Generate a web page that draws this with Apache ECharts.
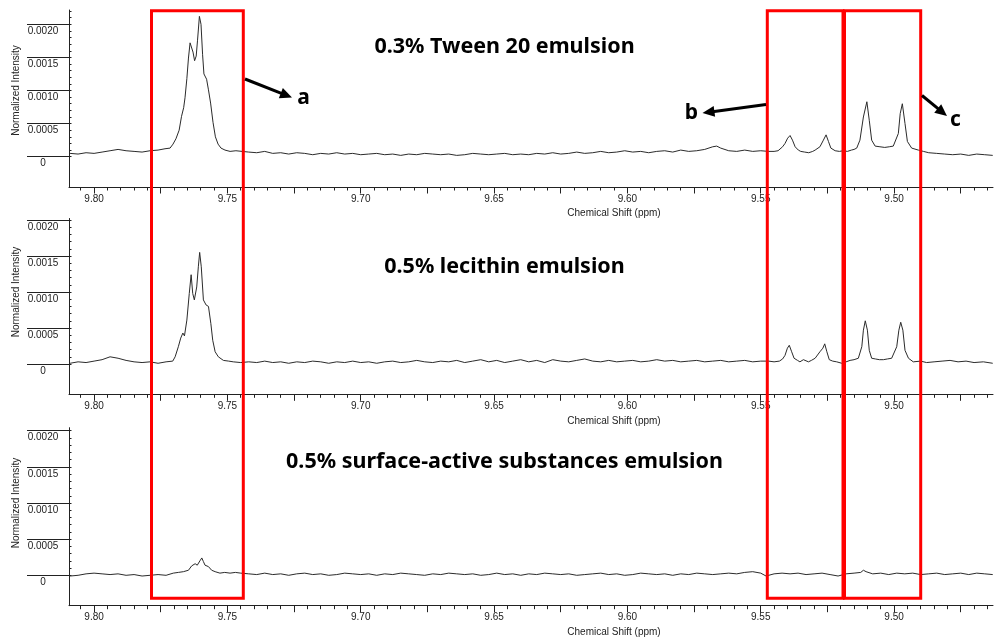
<!DOCTYPE html>
<html>
<head>
<meta charset="utf-8">
<title>1H NMR aldehyde region</title>
<script src="https://cdn.jsdelivr.net/npm/echarts@6/dist/echarts.min.js"></script>
<style>
    html, body { margin: 0; padding: 0; background: #fff; }
    #chart { width: 994px; height: 638px; }
</style>
</head>
<body>
<div id="chart"></div>
<script>
// 谱图数据 - [化学位移 ppm, 强度 ×1e-5]

const panelTitles = [
    '0.3% Tween 20 emulsion',
    '0.5% lecithin emulsion',
    '0.5% surface-active substances emulsion'
];

const shiftLabels = [9.80, 9.75, 9.70, 9.65, 9.60, 9.55, 9.50];
const shiftMajorTicks = [9.475, 9.50, 9.525, 9.55, 9.575, 9.60, 9.625, 9.65, 9.675, 9.70, 9.725, 9.75, 9.775, 9.80];
const intensityLabels = [0, 50, 100, 150, 200];

const tweenSpectrum = [
    [9.809, 5], [9.806, 4], [9.803, 6], [9.800, 5], [9.797, 7], [9.794, 9], [9.791, 11], [9.788, 9],
    [9.785, 8], [9.782, 7], [9.779, 9], [9.776, 10],
    [9.7734, 12], [9.7715, 13], [9.7704, 19], [9.7693, 27], [9.7681, 40], [9.7672, 61], [9.7664, 74],
    [9.7659, 89], [9.7652, 118], [9.7646, 149], [9.764, 172], [9.7634, 175], [9.7629, 158], [9.7623, 145],
    [9.7617, 152], [9.7612, 176], [9.7605, 212], [9.7599, 200], [9.7593, 154], [9.7588, 125], [9.7578, 117],
    [9.7571, 101], [9.7563, 81], [9.7554, 52], [9.7545, 30], [9.7535, 19], [9.7524, 13], [9.7509, 10],
    [9.749, 8], [9.7468, 9], [9.7445, 8],
    [9.742, 7], [9.739, 6], [9.736, 8], [9.733, 5], [9.730, 6], [9.727, 4], [9.724, 6], [9.721, 5],
    [9.718, 3], [9.715, 5], [9.712, 4], [9.709, 6], [9.706, 4], [9.703, 5], [9.700, 3], [9.697, 4],
    [9.694, 5], [9.691, 3], [9.688, 4], [9.685, 2], [9.682, 4], [9.679, 3], [9.676, 5], [9.673, 4],
    [9.670, 3], [9.667, 4], [9.664, 2], [9.661, 3], [9.658, 5], [9.655, 4], [9.652, 3], [9.649, 4],
    [9.646, 5], [9.643, 3], [9.640, 4], [9.637, 3], [9.634, 5], [9.631, 4], [9.628, 6], [9.625, 4],
    [9.622, 5], [9.619, 7], [9.616, 5], [9.613, 6], [9.610, 8], [9.607, 6], [9.604, 7], [9.601, 9],
    [9.598, 7], [9.595, 8], [9.592, 6], [9.589, 8], [9.586, 9], [9.583, 7], [9.580, 10], [9.577, 8],
    [9.574, 9], [9.571, 11], [9.568, 15], [9.5665, 16], [9.565, 13], [9.562, 9], [9.559, 8], [9.556, 10],
    [9.553, 8], [9.550, 9],
    [9.547, 8], [9.545, 8], [9.5435, 9], [9.5428, 11], [9.5418, 15], [9.5409, 20], [9.5399, 28], [9.539, 32],
    [9.5381, 25], [9.5371, 15], [9.5359, 10], [9.535, 8], [9.5335, 7], [9.532, 6], [9.5305, 8], [9.5296, 10],
    [9.5278, 15], [9.5265, 25], [9.5255, 33], [9.5246, 23], [9.5237, 13], [9.5221, 9], [9.5205, 8], [9.519, 9],
    [9.5175, 8], [9.516, 10], [9.515, 11],
    [9.514, 13], [9.5128, 25], [9.5115, 60], [9.5102, 83], [9.5093, 55], [9.5084, 25], [9.5071, 16], [9.5053, 15],
    [9.5035, 14], [9.5018, 15], [9.5003, 16], [9.4984, 35], [9.4977, 65], [9.4969, 80], [9.4959, 50], [9.495, 23],
    [9.4934, 13], [9.4909, 10], [9.489, 8], [9.487, 6], [9.484, 5], [9.481, 4], [9.478, 3], [9.475, 4],
    [9.472, 2], [9.469, 4], [9.466, 3], [9.463, 2]
];

const lecithinSpectrum = [
    [9.809, 1], [9.806, 3], [9.803, 2], [9.800, 4], [9.797, 6], [9.794, 10], [9.791, 8], [9.788, 5],
    [9.785, 3], [9.782, 2], [9.779, 3], [9.776, 1], [9.773, 3], [9.7705, 4],
    [9.7696, 10], [9.7684, 24], [9.7675, 36], [9.7667, 43], [9.7661, 39], [9.7652, 61], [9.7643, 98], [9.7636, 124],
    [9.763, 98], [9.7624, 89], [9.7615, 107], [9.7609, 135], [9.7604, 155], [9.7598, 135], [9.759, 89], [9.758, 82],
    [9.7571, 80], [9.7562, 56], [9.7555, 33], [9.7546, 17], [9.7534, 10], [9.7515, 5], [9.7495, 4], [9.7478, 3],
    [9.745, 2],
    [9.742, 3], [9.739, 2], [9.736, 4], [9.733, 2], [9.730, 3], [9.727, 1], [9.724, 3], [9.721, 2],
    [9.718, 4], [9.715, 3], [9.712, 1], [9.709, 3], [9.706, 2], [9.703, 4], [9.700, 2], [9.697, 3],
    [9.694, 1], [9.691, 3], [9.688, 4], [9.685, 2], [9.682, 3], [9.679, 5], [9.676, 3], [9.673, 2],
    [9.670, 4], [9.667, 3], [9.664, 5], [9.661, 2], [9.658, 4], [9.655, 6], [9.652, 3], [9.649, 5],
    [9.646, 2], [9.643, 4], [9.640, 6], [9.637, 3], [9.634, 5], [9.631, 2], [9.628, 6], [9.625, 4],
    [9.622, 3], [9.619, 5], [9.616, 7], [9.613, 4], [9.610, 3], [9.607, 5], [9.604, 3], [9.601, 4],
    [9.598, 5], [9.595, 3], [9.592, 4], [9.589, 6], [9.586, 4], [9.583, 5], [9.580, 3], [9.577, 4],
    [9.574, 5], [9.571, 3], [9.568, 4], [9.565, 5], [9.562, 3], [9.559, 4], [9.556, 5], [9.553, 3],
    [9.550, 4],
    [9.547, 4], [9.545, 3], [9.543, 4], [9.5418, 7], [9.5409, 12], [9.54, 22], [9.5393, 26], [9.5384, 17],
    [9.5375, 8], [9.5362, 5], [9.5353, 3], [9.534, 6], [9.5321, 3], [9.531, 5], [9.5296, 8], [9.5278, 17],
    [9.5267, 22], [9.526, 28], [9.5252, 17], [9.5243, 6], [9.523, 4], [9.5215, 3], [9.5196, 1], [9.518, 3],
    [9.5165, 5], [9.515, 6], [9.5134, 8], [9.5121, 24], [9.5115, 47], [9.5108, 60], [9.51, 47], [9.5093, 19],
    [9.5084, 8], [9.507, 7], [9.5055, 6], [9.504, 6], [9.5025, 7], [9.5009, 8], [9.499, 24], [9.4982, 47],
    [9.4975, 58], [9.4967, 47], [9.4959, 19], [9.4946, 8], [9.4928, 3], [9.490, 4], [9.4878, 2], [9.485, 3],
    [9.482, 4], [9.479, 5], [9.476, 3], [9.473, 4], [9.470, 2], [9.4665, 3], [9.463, 1]
];

const surfactantSpectrum = [
    [9.809, -1], [9.806, 0], [9.803, 2], [9.800, 3], [9.797, 2], [9.794, 1], [9.791, 2], [9.788, 0],
    [9.785, 1], [9.782, -1], [9.779, 0], [9.776, 1], [9.773, 0],
    [9.7703, 3], [9.7684, 4], [9.7665, 5], [9.7646, 7], [9.7634, 13], [9.7621, 16], [9.7613, 14], [9.7603, 20],
    [9.7596, 24], [9.759, 19], [9.7584, 14], [9.7577, 16], [9.7571, 12], [9.7559, 7], [9.7546, 5], [9.7528, 3],
    [9.751, 4], [9.749, 3], [9.747, 4], [9.745, 3],
    [9.742, 2], [9.739, 1], [9.736, 3], [9.733, 1], [9.730, 2], [9.727, 0], [9.724, 2], [9.721, 3],
    [9.718, 1], [9.715, 2], [9.712, 0], [9.709, 1], [9.706, 3], [9.703, 2], [9.700, 1], [9.697, 2],
    [9.694, 0], [9.691, 2], [9.688, 1], [9.685, 3], [9.682, 2], [9.679, 1], [9.676, 0], [9.673, 2],
    [9.670, 1], [9.667, 3], [9.664, 2], [9.661, 1], [9.658, 2], [9.655, 0], [9.652, 1], [9.649, 3],
    [9.646, 1], [9.643, 2], [9.640, 0], [9.637, 2], [9.634, 1], [9.631, 3], [9.628, 2], [9.625, 1],
    [9.622, 2], [9.619, 0], [9.616, 1], [9.613, 2], [9.610, 3], [9.607, 1], [9.604, 2], [9.601, 0],
    [9.598, 1], [9.595, 3], [9.592, 2], [9.589, 1], [9.586, 2], [9.583, 0], [9.580, 2], [9.577, 1],
    [9.574, 3], [9.571, 2], [9.568, 1], [9.565, 2], [9.562, 3], [9.559, 2], [9.556, 4], [9.553, 5],
    [9.550, 3],
    [9.548, -1], [9.545, 2], [9.542, 3], [9.539, 2], [9.536, 3], [9.533, 1], [9.530, 2], [9.527, 3],
    [9.524, 1], [9.521, -1], [9.518, 2], [9.515, 3], [9.5125, 4], [9.5115, 7], [9.5105, 5], [9.508, 2],
    [9.505, 3], [9.502, 1], [9.499, 3], [9.496, 2], [9.493, 3], [9.490, 1], [9.487, 2], [9.484, 3],
    [9.481, 1], [9.478, 2], [9.475, 3], [9.472, 1], [9.469, 3], [9.466, 2], [9.463, 1]
];

const spectra = [tweenSpectrum, lecithinSpectrum, surfactantSpectrum];

// 版面 - 每个面板的像素位置
const xLeftPpm = 9.8094;
const xRightPpm = 9.4629;
const panelLayout = [
    { top: 10, bottom: 187, zeroY: 156.7, pxPer50: 33.1, minorTop: 220, titleY: 47, nameY: 90.5 },
    { top: 218.5, bottom: 394.3, zeroY: 364, pxPer50: 36, minorTop: 200, titleY: 266.5, nameY: 292 },
    { top: 427.7, bottom: 605.7, zeroY: 575.3, pxPer50: 36.15, minorTop: 200, titleY: 461.5, nameY: 503 }
];

const axisColor = '#222';
const labelFont = 'Liberation Sans';

const shiftMinorTicks = [];
for (let i = 9465; i <= 9805; i += 5) {
    shiftMinorTicks.push(i / 1000);
}

function intensityMinorTicks(top) {
    const ticks = [];
    for (let v = 0; v <= top; v += 10) {
        ticks.push(v);
    }
    return ticks;
}

/**
 * 带箭头的线段
 */
function arrow(x1, y1, x2, y2) {
    const ang = Math.atan2(y2 - y1, x2 - x1);
    const headLen = 12;
    const headW = 5.5;
    const c = Math.cos(ang);
    const s = Math.sin(ang);
    const bx = x2 - headLen * c;
    const by = y2 - headLen * s;
    return [
        {
            type: 'line',
            z: 100,
            shape: { x1, y1, x2: bx + 2 * c, y2: by + 2 * s },
            style: { stroke: '#000', lineWidth: 3 }
        },
        {
            type: 'polygon',
            z: 100,
            shape: { points: [[x2, y2], [bx - headW * s, by + headW * c], [bx + headW * s, by - headW * c]] },
            style: { fill: '#000' }
        }
    ];
}

function redBox(x1, x2) {
    return {
        type: 'rect',
        z: 100,
        shape: { x: x1, y: 10.8, width: x2 - x1, height: 598.3 - 10.8 },
        style: { fill: 'none', stroke: '#ff0000', lineWidth: 3 }
    };
}

function letter(text, x, y) {
    return {
        type: 'text',
        z: 100,
        x,
        y,
        style: {
            text,
            fill: '#000',
            font: 'bold 21px "Noto Sans"',
            align: 'center',
            verticalAlign: 'middle'
        }
    };
}

const grids = [];
const xAxes = [];
const yAxes = [];
const series = [];
const graphics = [];

panelLayout.forEach((p, i) => {
    const yMin = -(p.bottom - p.zeroY) * 50 / p.pxPer50;
    const yMax = (p.zeroY - p.top) * 50 / p.pxPer50;

    grids.push({
        left: 69,
        right: 1,
        top: p.top,
        height: p.bottom - p.top,
        outerBoundsMode: 'none'
    });

    // 细刻度 + 轴线
    xAxes.push({
        type: 'value',
        gridIndex: i,
        position: 'bottom',
        inverse: true,
        min: xRightPpm,
        max: xLeftPpm,
        axisLine: { show: true, onZero: false, lineStyle: { color: axisColor, width: 1 } },
        axisTick: { show: true, length: 3.5, customValues: shiftMinorTicks, lineStyle: { color: axisColor } },
        axisLabel: { show: false },
        splitLine: { show: false }
    });
    // 粗刻度 + 标签
    xAxes.push({
        type: 'value',
        gridIndex: i,
        position: 'bottom',
        inverse: true,
        min: xRightPpm,
        max: xLeftPpm,
        axisLine: { show: false, onZero: false },
        axisTick: { show: true, length: 6.5, customValues: shiftMajorTicks, lineStyle: { color: axisColor } },
        axisLabel: {
            show: true,
            customValues: shiftLabels,
            formatter: (v) => v.toFixed(2),
            margin: 7,
            color: axisColor,
            fontSize: 10,
            fontFamily: labelFont
        },
        splitLine: { show: false }
    });

    yAxes.push({
        type: 'value',
        gridIndex: i,
        position: 'left',
        min: yMin,
        max: yMax,
        axisLine: { show: true, onZero: false, lineStyle: { color: axisColor, width: 1 } },
        axisTick: { show: true, inside: true, length: 2.5, customValues: intensityMinorTicks(p.minorTop), lineStyle: { color: axisColor } },
        axisLabel: { show: false },
        splitLine: { show: false }
    });
    yAxes.push({
        type: 'value',
        gridIndex: i,
        position: 'left',
        min: yMin,
        max: yMax,
        axisLine: { show: false, onZero: false },
        axisTick: { show: true, length: 42, customValues: intensityLabels, lineStyle: { color: axisColor } },
        axisLabel: {
            show: true,
            customValues: intensityLabels,
            formatter: (v) => (v === 0 ? '0' : (v / 100000).toFixed(4)),
            margin: 26,
            align: 'center',
            verticalAlign: 'top',
            padding: [2, 0, 0, 0],
            color: axisColor,
            fontSize: 10,
            fontFamily: labelFont
        },
        splitLine: { show: false }
    });

    series.push({
        type: 'line',
        xAxisIndex: i * 2,
        yAxisIndex: i * 2,
        data: spectra[i],
        showSymbol: false,
        silent: true,
        lineStyle: { color: '#2b2b2b', width: 1 }
    });

    graphics.push({
        type: 'text',
        x: 504.5,
        y: p.titleY,
        style: {
            text: panelTitles[i],
            fill: '#000',
            font: 'bold 21.5px "Noto Sans"',
            align: 'center',
            verticalAlign: 'middle'
        }
    });
    graphics.push({
        type: 'text',
        x: 16,
        y: p.nameY,
        rotation: Math.PI / 2,
        style: {
            text: 'Normalized Intensity',
            fill: axisColor,
            font: '10px "Liberation Sans"',
            align: 'center',
            verticalAlign: 'middle'
        }
    });
    graphics.push({
        type: 'text',
        x: 614,
        y: p.bottom + 26.5,
        style: {
            text: 'Chemical Shift (ppm)',
            fill: axisColor,
            font: '10px "Liberation Sans"',
            align: 'center',
            verticalAlign: 'middle'
        }
    });
});

// 红框与箭头标注
graphics.push(redBox(151.5, 243.3));
graphics.push(redBox(767.3, 843));
graphics.push(redBox(844.5, 920.7));
graphics.push(...arrow(245, 79, 292, 97.5));
graphics.push(...arrow(766, 104.5, 702.5, 113));
graphics.push(...arrow(922, 95.5, 947, 116));
graphics.push(letter('a', 303.5, 98));
graphics.push(letter('b', 691.5, 113));
graphics.push(letter('c', 955.5, 120));

const chart = echarts.init(document.getElementById('chart'), null, { renderer: 'canvas' });
chart.setOption({
    animation: false,
    backgroundColor: '#fff',
    grid: grids,
    xAxis: xAxes,
    yAxis: yAxes,
    series,
    graphic: graphics
});
</script>
</body>
</html>
